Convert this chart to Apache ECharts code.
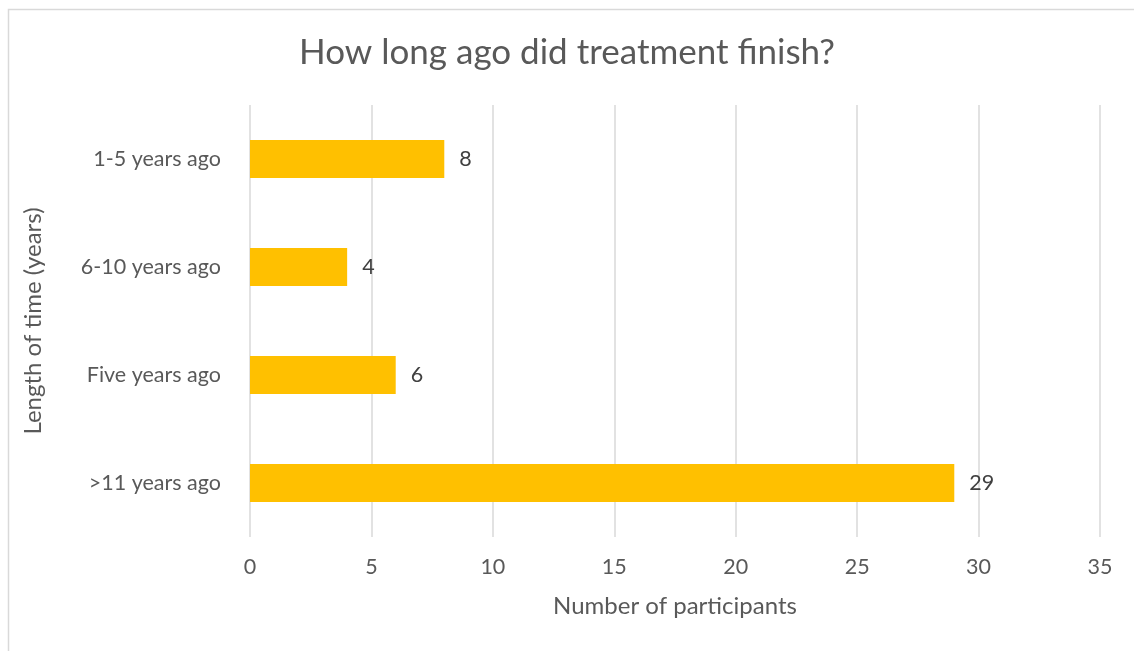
<!DOCTYPE html>
<html><head><meta charset="utf-8">
<script src="https://cdn.jsdelivr.net/npm/echarts@6/dist/echarts.min.js"></script>
<style>html,body{margin:0;padding:0;background:#fff}#c{width:1134px;height:651px}</style>
</head><body><div id="c"></div>
<script>
const categories = ['>11 years ago', 'Five years ago', '6-10 years ago', '1-5 years ago'];
const values = [29, 6, 4, 8];
const xTicks = {min: 0, max: 35, interval: 5};
const titleText = 'How long ago did treatment finish?';
const xName = 'Number of participants';
const yName = 'Length of time (years)';

const FONT = 'Lato, "Open Sans", sans-serif';
const chart = echarts.init(document.getElementById('c'));
chart.setOption({
  backgroundColor: '#fff',
  animation: false,
  title: {text: titleText, left: 'center', top: 30,
    textStyle: {fontFamily: FONT, fontSize: 35, fontWeight: 'normal', color: '#595959'}},
  graphic: [{type: 'rect', left: 6, top: 7, shape: {width: 1140, height: 660},
    style: {fill: 'none', stroke: '#d9d9d9', lineWidth: 1.5}, silent: true, z: -1}],
  grid: {left: 250, right: 34, top: 105, bottom: 114},
  xAxis: {type: 'value', min: xTicks.min, max: xTicks.max, interval: xTicks.interval,
    name: xName, nameLocation: 'middle', nameGap: 57,
    nameTextStyle: {fontFamily: FONT, fontSize: 24, color: '#595959'},
    axisLine: {show: false}, axisTick: {show: false},
    axisLabel: {fontFamily: FONT, fontSize: 21.5, color: '#595959', margin: 19},
    splitLine: {show: true, lineStyle: {color: '#d9d9d9', width: 1.5}}},
  yAxis: {type: 'category', data: categories,
    name: yName, nameLocation: 'middle', nameGap: 205, nameRotate: 90,
    nameTextStyle: {fontFamily: FONT, fontSize: 24, color: '#595959'},
    axisLine: {show: false}, axisTick: {show: false},
    axisLabel: {fontFamily: FONT, fontSize: 21.5, color: '#595959', margin: 29}},
  series: [{type: 'bar', data: values, barCategoryGap: '65%',
    itemStyle: {color: '#FFC000'},
    label: {show: true, position: 'right', distance: 15, fontFamily: FONT, fontSize: 21.5, color: '#404040'}}]
});
</script></body></html>
